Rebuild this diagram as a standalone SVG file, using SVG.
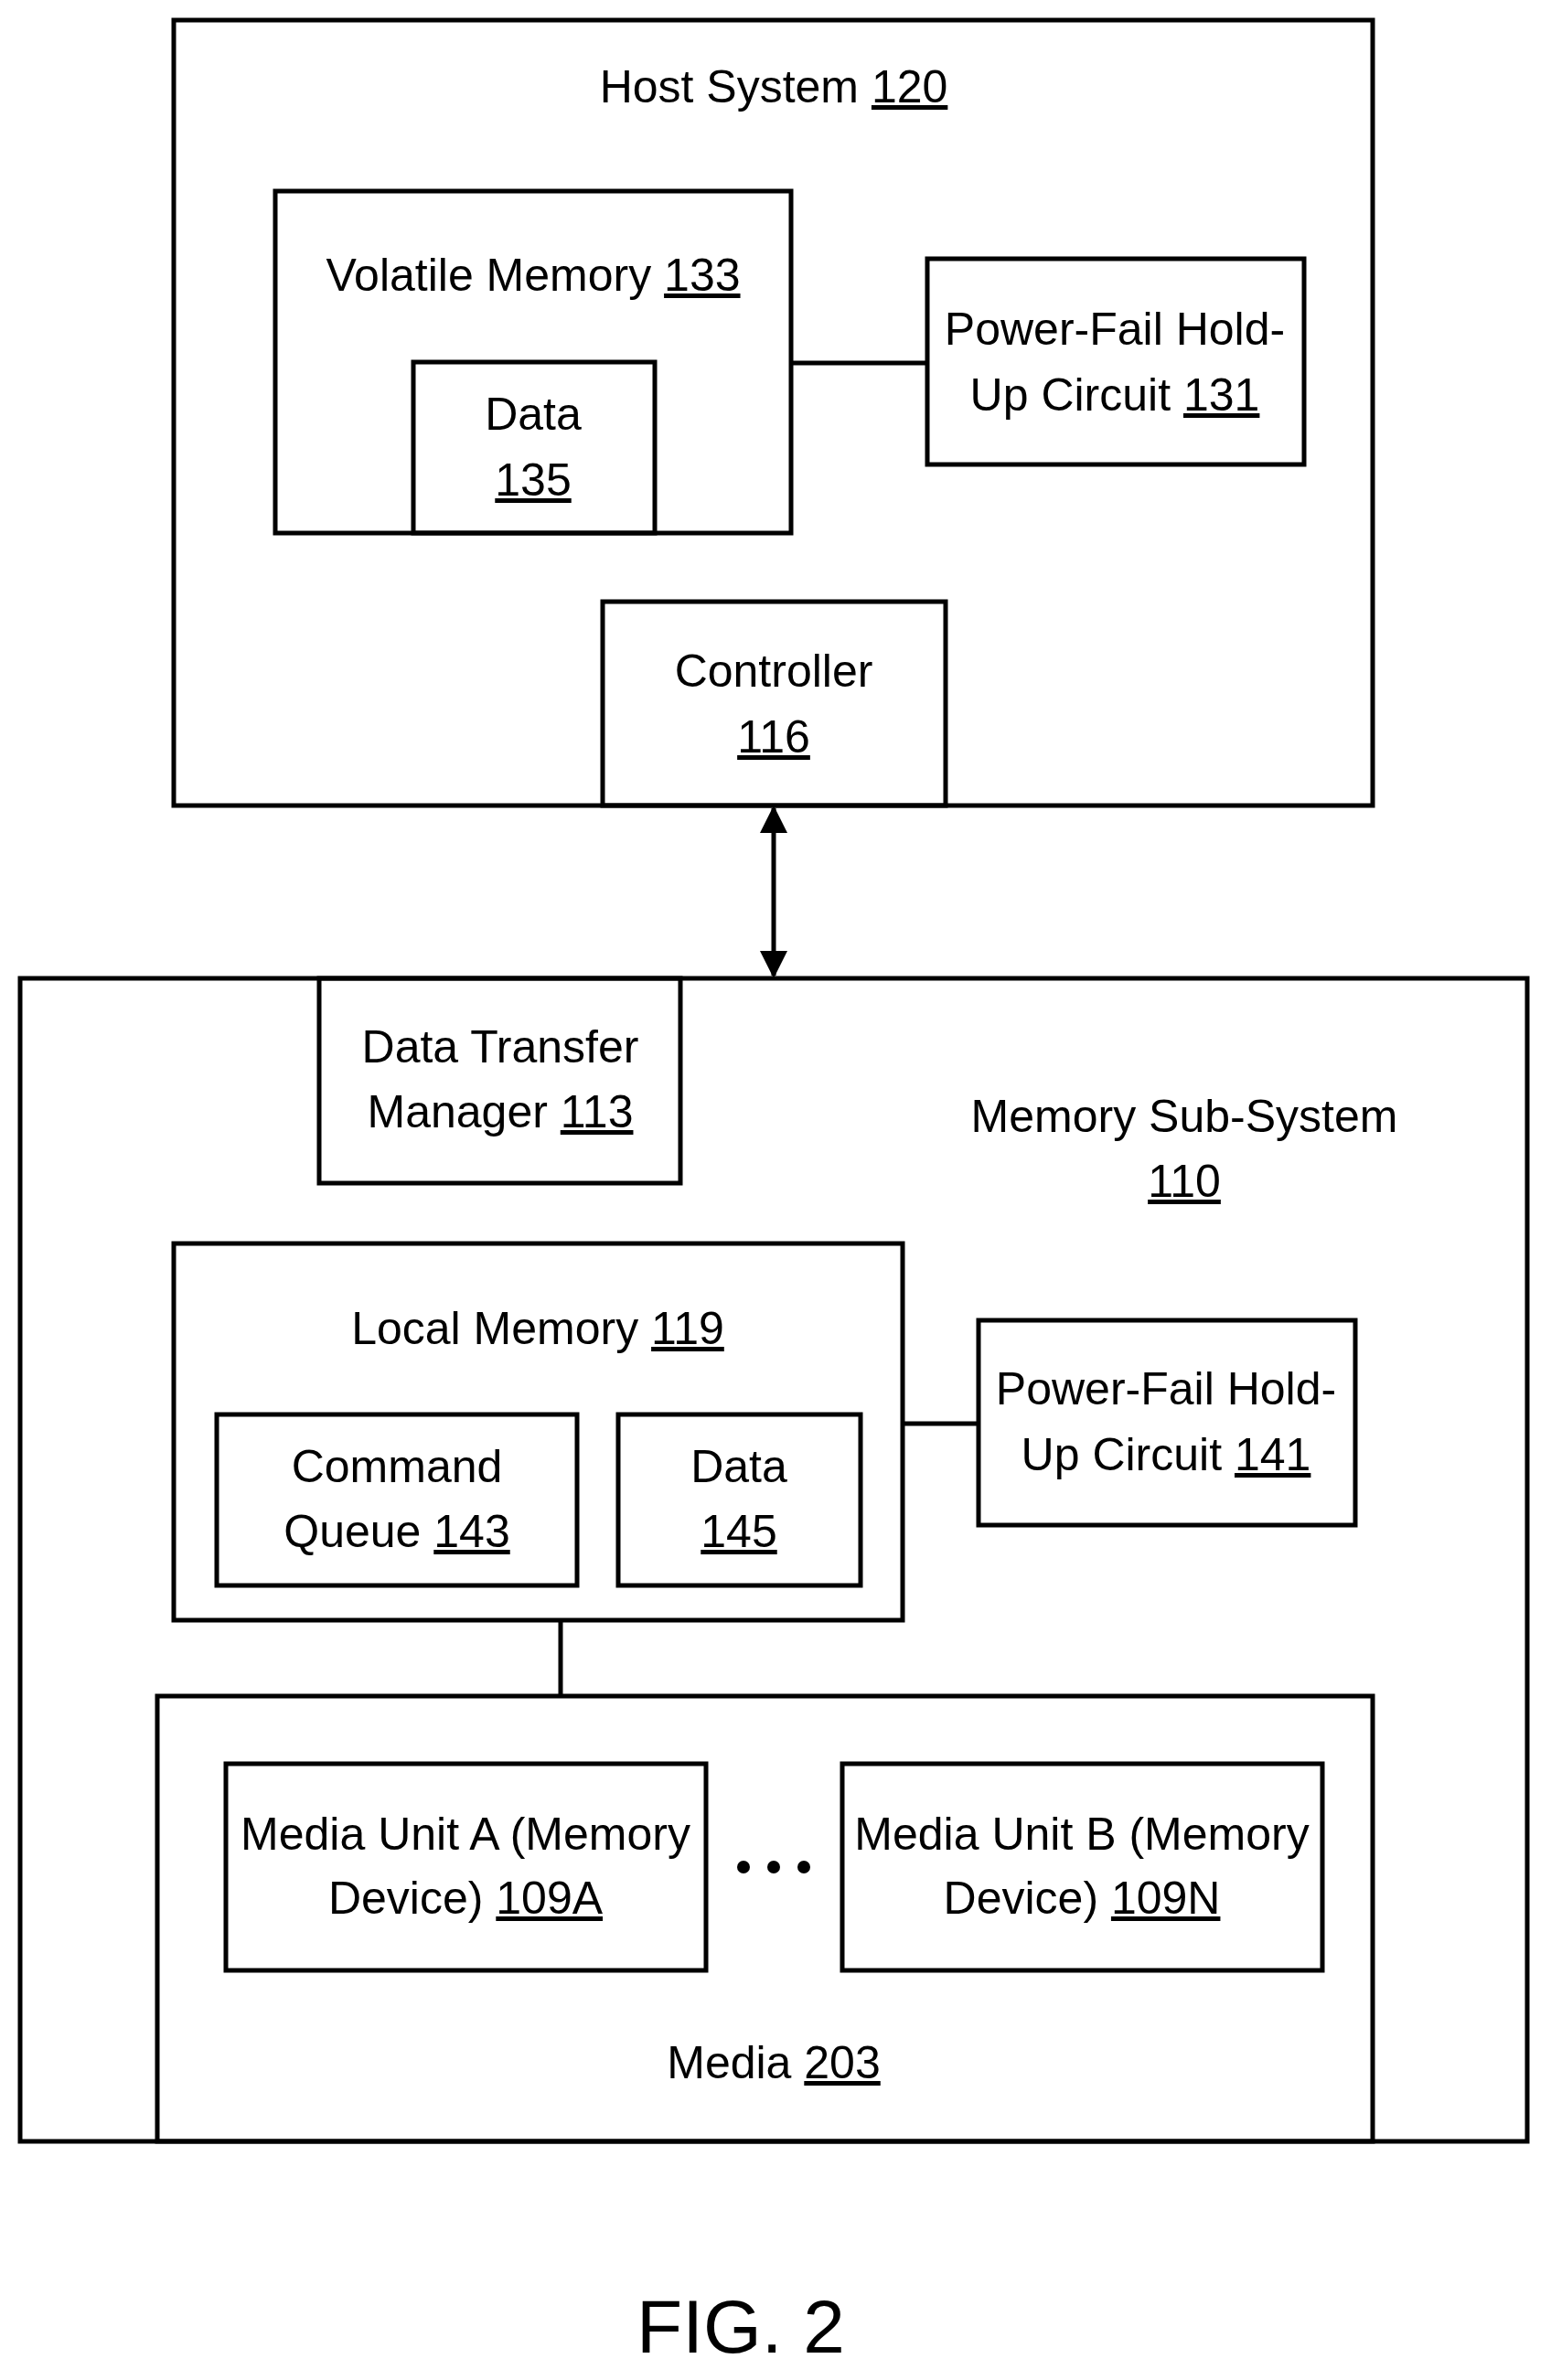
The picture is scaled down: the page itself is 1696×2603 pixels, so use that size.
<svg xmlns="http://www.w3.org/2000/svg" width="1696" height="2603" viewBox="0 0 1696 2603">
<style>
rect{fill:none;stroke:#000;stroke-width:5}
line{stroke:#000;stroke-width:5}
text{font-family:"Liberation Sans Narrow","Liberation Sans",Arial,sans-serif;font-size:50px;text-anchor:middle;fill:#000}
.u{text-decoration:underline}
</style>
<defs><marker id="ah" viewBox="0 0 10 10" refX="9" refY="5" markerWidth="6" markerHeight="6" orient="auto-start-reverse"><path d="M0,0L10,5L0,10z" fill="#000"/></marker></defs>
<rect x="0" y="0" width="1696" height="2603" style="fill:#fff;stroke:none"/>
<g id="host"><rect x="190" y="22" width="1311" height="859"/><text x="846" y="112">Host System  <tspan class="u">120</tspan></text></g>
<g id="volatile"><rect x="301" y="209" width="564" height="374"/><text x="583" y="318">Volatile Memory  <tspan class="u">133</tspan></text></g>
<g id="data135"><rect x="452" y="396" width="264" height="187"/><text x="583" y="470">Data</text><text x="583" y="542" class="u">135</text></g>
<g id="pf131"><rect x="1014" y="283" width="412" height="225"/><text x="1219" y="377">Power-Fail Hold-</text><text x="1219" y="449">Up Circuit  <tspan class="u">131</tspan></text></g>
<g id="controller"><rect x="659" y="658" width="375" height="223"/><text x="846" y="751">Controller</text><text x="846" y="823" class="u">116</text></g>
<g id="mss"><rect x="22" y="1070" width="1648" height="1272"/><text x="1295" y="1238">Memory Sub-System</text><text x="1295" y="1309" class="u">110</text></g>
<g id="dtm"><rect x="349" y="1070" width="395" height="224"/><text x="547" y="1162">Data Transfer</text><text x="547" y="1233">Manager  <tspan class="u">113</tspan></text></g>
<g id="local"><rect x="190" y="1360" width="797" height="412"/><text x="588" y="1470">Local Memory  <tspan class="u">119</tspan></text></g>
<g id="cq"><rect x="237" y="1547" width="394" height="187"/><text x="434" y="1621">Command</text><text x="434" y="1692">Queue  <tspan class="u">143</tspan></text></g>
<g id="data145"><rect x="676" y="1547" width="265" height="187"/><text x="808" y="1621">Data</text><text x="808" y="1692" class="u">145</text></g>
<g id="pf141"><rect x="1070" y="1444" width="412" height="224"/><text x="1275" y="1536">Power-Fail Hold-</text><text x="1275" y="1608">Up Circuit  <tspan class="u">141</tspan></text></g>
<g id="media"><rect x="172" y="1855" width="1329" height="487"/><text x="846" y="2273">Media  <tspan class="u">203</tspan></text>
<circle cx="813" cy="2042" r="7"/><circle cx="846" cy="2042" r="7"/><circle cx="879" cy="2042" r="7"/></g>
<g id="mua"><rect x="247" y="1929" width="525" height="226"/><text x="509" y="2023">Media Unit A (Memory</text><text x="509" y="2093">Device)  <tspan class="u">109A</tspan></text></g>
<g id="mub"><rect x="921" y="1929" width="525" height="226"/><text x="1183" y="2023">Media Unit B (Memory</text><text x="1183" y="2093">Device) <tspan class="u">109N</tspan></text></g>
<g id="connectors">
<line x1="865" y1="397" x2="1014" y2="397"/>
<line x1="846" y1="884" x2="846" y2="1067" marker-start="url(#ah)" marker-end="url(#ah)"/>
<line x1="987" y1="1557" x2="1070" y2="1557"/>
<line x1="613" y1="1772" x2="613" y2="1855"/>
</g>
<text x="810" y="2573" style="font-size:82px">FIG. 2</text>
</svg>
